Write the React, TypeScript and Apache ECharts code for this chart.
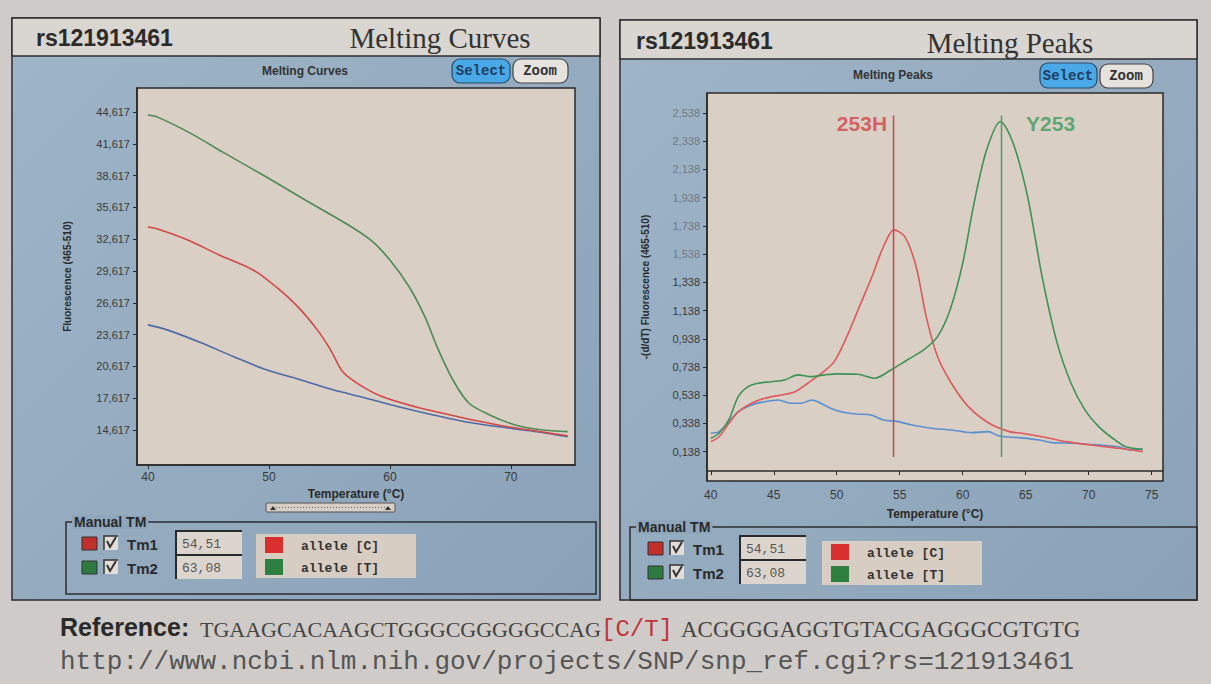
import React, { useEffect, useRef } from "react";
import * as echarts from "echarts";

// ---------- Melting Curves (left) ----------
const mcGreenT = [40, 40.8, 43.5, 46.2, 49.8, 53.0, 56.3, 58.4, 60.0, 61.6, 62.9, 63.9, 65.2, 66.5, 68.2, 70.3, 72.5, 74.7];
const mcGreenF = [44.35, 44.15, 42.64, 40.84, 38.49, 36.32, 34.15, 32.55, 30.66, 28.11, 25.29, 22.46, 19.35, 17.18, 16.05, 15.11, 14.63, 14.45];
const mcRedT = [40, 40.8, 43.3, 45.9, 48.7, 50.6, 52.4, 54.0, 55.1, 56.1, 57.5, 59.4, 62.1, 64.9, 67.6, 70.3, 74.7];
const mcRedF = [33.77, 33.58, 32.54, 31.13, 29.72, 28.11, 26.23, 24.06, 22.17, 20.10, 18.87, 17.74, 16.80, 16.05, 15.38, 14.81, 14.06];
const mcBlueT = [40, 41.6, 44.4, 47.1, 49.8, 52.6, 55.3, 57.9, 60.7, 63.5, 66.2, 69.0, 71.6, 74.7];
const mcBlueF = [24.53, 24.06, 22.84, 21.52, 20.29, 19.35, 18.40, 17.65, 16.80, 16.05, 15.38, 14.91, 14.53, 13.97];
const mcYTicks = [14.617, 17.617, 20.617, 23.617, 26.617, 29.617, 32.617, 35.617, 38.617, 41.617, 44.617];
const mcXTicks = [40, 50, 60, 70];

// ---------- Melting Peaks (right) ----------
const mpRedT = [40.0, 40.66, 41.44, 42.2, 43.25, 44.3, 45.6, 46.7, 47.7, 48.8, 49.8, 50.8, 51.8, 52.8, 53.6, 54.55, 55.4, 56.3, 57.1, 58.0, 59.1, 60.45, 62.1, 63.7, 64.7, 66.9, 68.2, 70.8, 72.4, 74.3];
const mpRedV = [0.209, 0.244, 0.339, 0.422, 0.481, 0.517, 0.540, 0.563, 0.623, 0.694, 0.776, 0.953, 1.166, 1.379, 1.568, 1.710, 1.662, 1.450, 1.095, 0.812, 0.623, 0.457, 0.339, 0.280, 0.268, 0.233, 0.209, 0.178, 0.162, 0.138];
const mpGreenT = [40.0, 40.66, 41.43, 42.18, 42.96, 43.75, 44.8, 45.87, 46.91, 47.97, 49.03, 50.09, 51.68, 53.0, 54.3, 55.6, 56.9, 58.0, 59.0, 60.0, 60.9, 61.9, 63.0, 64.0, 65.15, 66.3, 67.5, 68.6, 69.7, 70.8, 71.9, 72.95, 74.3];
const mpGreenV = [0.233, 0.268, 0.363, 0.528, 0.599, 0.623, 0.634, 0.646, 0.682, 0.670, 0.682, 0.689, 0.687, 0.658, 0.717, 0.788, 0.859, 0.953, 1.143, 1.473, 1.899, 2.277, 2.478, 2.325, 1.946, 1.379, 0.907, 0.623, 0.434, 0.315, 0.233, 0.173, 0.155];
const mpBlueT = [40.0, 40.66, 41.44, 42.2, 43.25, 44.3, 45.35, 46.4, 47.2, 48.0, 48.5, 49.5, 50.6, 51.6, 52.7, 53.7, 54.9, 55.95, 57.5, 59.1, 60.7, 62.0, 62.9, 64.5, 66.1, 67.1, 68.7, 70.8, 72.4, 73.2, 74.3];
const mpBlueV = [0.268, 0.280, 0.351, 0.422, 0.469, 0.492, 0.504, 0.481, 0.481, 0.504, 0.492, 0.446, 0.415, 0.405, 0.398, 0.363, 0.351, 0.327, 0.304, 0.292, 0.273, 0.280, 0.249, 0.237, 0.221, 0.202, 0.198, 0.186, 0.173, 0.150, 0.155];
const mpYTicks = [0.138, 0.338, 0.538, 0.738, 0.938, 1.138, 1.338, 1.538, 1.738, 1.938, 2.138, 2.338, 2.538];
const mpXTicks = [40, 45, 50, 55, 60, 65, 70, 75];

// Tm markers
const tmValues = [54.51, 63.08];
const tmText = ["54,51", "63,08"];
const tmPeakLabels = ["253H", "Y253"];
const tmLineRange = [2.52, 0.1];
const alleleLabels = ["allele [C]", "allele [T]"];

const rsId = "rs121913461";
const refSeqLeft = "TGAAGCACAAGCTGGGCGGGGGCCAG";
const refSnp = "[C/T]";
const refSeqRight = "ACGGGGAGGTGTACGAGGGCGTGTG";
const refUrl = "http://www.ncbi.nlm.nih.gov/projects/SNP/snp_ref.cgi?rs=121913461";

const SANS = '"Liberation Sans", Arial, sans-serif';
const SERIF = '"Liberation Serif", "Times New Roman", serif';
const MONO = '"Liberation Mono", "Courier New", monospace';

const pairs = (xs: number[], ys: number[]) => xs.map((x, i) => [x, ys[i]]);
const comma = (v: number, d: number) => v.toFixed(d).replace(".", ",");

function rect(x: number, y: number, w: number, h: number, fill: any, stroke?: string, r = 0, z = -5, lw = 1) {
  return { type: "rect", z, shape: { x, y, width: w, height: h, r }, style: { fill, stroke: stroke || "none", lineWidth: lw } };
}
function txt(x: number, y: number, text: string, font: string, fill: string, align = "left", z = 10, extra: any = {}) {
  return { type: "text", z, x, y, style: { text, font, fill, textAlign: align, textVerticalAlign: "middle", ...extra } };
}
function pl(points: number[][], stroke: string, lw = 1, z = 10) {
  return { type: "polyline", z, shape: { points }, style: { stroke, lineWidth: lw, fill: "none" } };
}

const panelGrad = () =>
  new echarts.graphic.LinearGradient(0, 0, 1, 1, [
    { offset: 0, color: "#9fb5c8" },
    { offset: 1, color: "#8aa2b8" },
  ]);

function manualTm(bx: number, by: number, bw: number, bh: number, rowY: number[], sqX: number, tbX: number, lgX: number, lgY: number, panelColor: string) {
  const els: any[] = [];
  els.push({ type: "rect", z: 1, shape: { x: bx, y: by, width: bw, height: bh }, style: { fill: "none", stroke: "#2c2c2c", lineWidth: 1.5 } });
  els.push(txt(bx + 6, by, "Manual TM", "bold 14px " + SANS, "#2a2a2a", "left", 10, { backgroundColor: panelColor, padding: [0, 2] }));
  const sqColors = ["#c2302c", "#2f7a40"];
  rowY.forEach((ry, i) => {
    els.push({ type: "rect", z: 5, shape: { x: sqX, y: ry - 6, width: 15, height: 13 }, style: { fill: sqColors[i], stroke: "#333", lineWidth: 1 } });
    els.push({ type: "rect", z: 5, shape: { x: sqX + 22, y: ry - 7, width: 14, height: 14 }, style: { fill: "#e2ddd7", stroke: "none" } });
    els.push(pl([[sqX + 22, ry + 7], [sqX + 22, ry - 7], [sqX + 36, ry - 7]], "#333", 1.5));
    els.push(pl([[sqX + 25, ry - 2], [sqX + 28, ry + 4], [sqX + 34, ry - 6]], "#333", 2));
    els.push(txt(sqX + 45, ry + 1, "Tm" + (i + 1), "bold 15px " + SANS, "#2a2a2a"));
    els.push({ type: "rect", z: 5, shape: { x: tbX, y: ry - 12, width: 66, height: 24 }, style: { fill: "#dcd5ce", stroke: "none" } });
    els.push(pl([[tbX, ry + 12], [tbX, ry - 12], [tbX + 66, ry - 12]], "#2a2a2a", 2));
    els.push(txt(tbX + 6, ry + 1, tmText[i], "13px " + MONO, "#555"));
  });
  els.push({ type: "rect", z: 5, shape: { x: lgX, y: lgY, width: 160, height: 44 }, style: { fill: "#d8cdc3", stroke: "none" } });
  alleleLabels.forEach((a, i) => {
    const cy = lgY + 11 + i * 22;
    els.push({ type: "rect", z: 6, shape: { x: lgX + 9, y: cy - 8, width: 18, height: 16 }, style: { fill: i === 0 ? "#d8302e" : "#2e8040", stroke: "none" } });
    els.push(txt(lgX + 45, cy + 1, a, "bold 13px " + MONO, "#333"));
  });
  return els;
}

function buildOption() {
  const graphic: any[] = [];
  // page background
  graphic.push(rect(0, 0, 1211, 684, "#cfcbc8", undefined, 0, -10));
  // LEFT PANEL
  graphic.push(rect(12, 18, 588, 582, panelGrad(), "#2e2e2e", 0, -6, 1.5));
  graphic.push(rect(12, 18, 588, 38, "#d9d5d1", "#2e2e2e", 0, -5, 1.5));
  graphic.push(txt(36, 38, rsId, "bold 23px " + SANS, "#2b2b2b"));
  graphic.push(txt(440, 38, "Melting Curves", "29px " + SERIF, "#333", "center"));
  graphic.push(txt(305, 71, "Melting Curves", "bold 12px " + SANS, "#333", "center", 10, { letterSpacing: 2.5 }));
  graphic.push(rect(452, 59, 58, 24, "#49a9e6", "#2b4a66", 8, 2, 1.2));
  graphic.push(txt(481, 71, "Select", "bold 14px " + MONO, "#1d3d62", "center"));
  graphic.push(rect(513, 59, 55, 24, "#e6e2de", "#444", 8, 2, 1.2));
  graphic.push(txt(540, 71, "Zoom", "bold 14px " + MONO, "#333", "center"));
  // scrollbar widget
  graphic.push(rect(266, 503, 129, 9, "#d6cdc4", "#555", 1, 2, 1));
  graphic.push({ type: "line", z: 3, shape: { x1: 276, y1: 507.5, x2: 385, y2: 507.5 }, style: { stroke: "#666", lineWidth: 1, lineDash: [1, 2] } });
  graphic.push({ type: "polygon", z: 3, shape: { points: [[270, 510], [273, 506], [276, 510]] }, style: { fill: "#333" } });
  graphic.push({ type: "polygon", z: 3, shape: { points: [[385, 510], [388, 506], [391, 510]] }, style: { fill: "#333" } });
  graphic.push(...manualTm(66, 522, 530, 72, [543, 567], 82, 176, 256, 534, "#8fa7bc"));

  // RIGHT PANEL
  graphic.push(rect(620, 20, 577, 580, panelGrad(), "#2e2e2e", 0, -6, 1.5));
  graphic.push(rect(620, 20, 577, 39, "#d9d5d1", "#2e2e2e", 0, -5, 1.5));
  graphic.push(txt(636, 41, rsId, "bold 23px " + SANS, "#2b2b2b"));
  graphic.push(txt(1010, 43, "Melting Peaks", "29px " + SERIF, "#333", "center"));
  graphic.push(txt(893, 75, "Melting Peaks", "bold 12px " + SANS, "#333", "center", 10, { letterSpacing: 2.5 }));
  graphic.push(rect(1040, 63, 57, 25, "#49a9e6", "#2b4a66", 8, 2, 1.2));
  graphic.push(txt(1068, 76, "Select", "bold 14px " + MONO, "#1d3d62", "center"));
  graphic.push(rect(1100, 64, 53, 24, "#e6e2de", "#444", 8, 2, 1.2));
  graphic.push(txt(1126, 76, "Zoom", "bold 14px " + MONO, "#333", "center"));
  graphic.push(...manualTm(630, 527, 567, 73, [548, 572], 648, 740, 822, 541, "#8ea6bb"));

  // Bottom reference text
  graphic.push(txt(60, 627, "Reference:", "bold 25px " + SANS, "#2a2a2a"));
  graphic.push(txt(200, 629, refSeqLeft, "22px " + SERIF, "#444"));
  graphic.push(txt(601, 629, refSnp, "24px " + MONO, "#c0353a"));
  graphic.push(txt(681, 629, refSeqRight, "23px " + SERIF, "#444"));
  graphic.push(txt(60, 662, refUrl, "26px " + MONO, "#555"));

  const axisLine = { lineStyle: { color: "#2a2a2a", width: 1.5 } };
  const labelFont = { fontFamily: SANS, fontSize: 11, color: "#3a3a3a" };

  const tmSeries = tmValues.map((tm, i) => ({
    type: "line",
    xAxisIndex: 1,
    yAxisIndex: 1,
    symbol: "none",
    silent: true,
    z: 4,
    lineStyle: { color: i === 0 ? "#c0484a" : "#4f9f6e", width: 1.5 },
    data: [[tm, tmLineRange[0]], [tm, tmLineRange[1]]],
  }));

  const tmLabelSeries = {
    type: "scatter",
    xAxisIndex: 1,
    yAxisIndex: 1,
    silent: true,
    symbolSize: 1,
    itemStyle: { color: "rgba(0,0,0,0)" },
    z: 5,
    data: tmValues.map((tm, i) => ({
      value: [tm, tmLineRange[0]],
      label: {
        show: true,
        formatter: tmPeakLabels[i],
        position: i === 0 ? "left" : "right",
        distance: i === 0 ? 6 : 24,
        offset: [0, 8],
        fontFamily: SANS,
        fontWeight: "bold",
        fontSize: 21,
        color: i === 0 ? "#d0454b" : "#3f9a5c",
      },
    })),
  };

  const curve = (xs: number[], ys: number[], color: string, axis: number, smooth: number) => ({
    type: "line",
    xAxisIndex: axis,
    yAxisIndex: axis,
    symbol: "none",
    smooth,
    z: 3,
    lineStyle: { color, width: 1.6 },
    data: pairs(xs, ys),
  });

  return {
    animation: false,
    backgroundColor: "#cfcbc8",
    graphic: { elements: graphic },
    grid: [
      { left: 137, top: 88, width: 438, height: 377, show: true, backgroundColor: "#dacfc4", borderColor: "#2a2a2a", borderWidth: 1.5, z: 0 },
      { left: 707, top: 93, width: 456, height: 388, show: true, backgroundColor: "#dacfc4", borderColor: "#2a2a2a", borderWidth: 1.5, z: 0 },
    ],
    xAxis: [
      {
        type: "value", gridIndex: 0, min: 39.1, max: 75.3,
        name: "Temperature (°C)", nameLocation: "middle", nameGap: 22,
        nameTextStyle: { fontFamily: SANS, fontWeight: "bold", fontSize: 12, color: "#2a2a2a" },
        axisLine, splitLine: { show: false },
        axisTick: { show: true, length: 4, customValues: mcXTicks, lineStyle: { color: "#2a2a2a" } },
        axisLabel: { ...labelFont, fontSize: 12, customValues: mcXTicks, margin: 6 },
      },
      {
        type: "value", gridIndex: 1, min: 39.7, max: 75.9,
        name: "Temperature (°C)", nameLocation: "middle", nameGap: 27,
        nameTextStyle: { fontFamily: SANS, fontWeight: "bold", fontSize: 12, color: "#2a2a2a" },
        axisLine, splitLine: { show: false },
        axisTick: { show: true, length: 4, customValues: mpXTicks, lineStyle: { color: "#2a2a2a" } },
        axisLabel: { ...labelFont, fontSize: 12, customValues: mpXTicks, margin: 8 },
      },
    ],
    yAxis: [
      {
        type: "value", gridIndex: 0, min: 11.3, max: 46.9,
        name: "Fluorescence (465-510)", nameLocation: "middle", nameGap: 65, nameRotate: 90,
        nameTextStyle: { fontFamily: SANS, fontWeight: "bold", fontSize: 10, color: "#2a2a2a" },
        axisLine: { show: true, ...axisLine }, splitLine: { show: false },
        axisTick: { show: true, length: 4, customValues: mcYTicks, lineStyle: { color: "#2a2a2a" } },
        axisLabel: { ...labelFont, customValues: mcYTicks, margin: 7, formatter: (v: number) => comma(v, 3) },
      },
      {
        type: "value", gridIndex: 1, min: -0.07, max: 2.68,
        name: "-(d/dT) Fluorescence (465-510)", nameLocation: "middle", nameGap: 57, nameRotate: 90,
        nameTextStyle: { fontFamily: SANS, fontWeight: "bold", fontSize: 10, color: "#2a2a2a" },
        axisLine: { show: true, ...axisLine }, splitLine: { show: false },
        axisTick: { show: true, length: 4, customValues: mpYTicks, lineStyle: { color: "#2a2a2a" } },
        axisLabel: {
          ...labelFont, customValues: mpYTicks, margin: 7,
          formatter: (v: number) => comma(v, 3),
          color: (v: any) => (Number(v) > 1.5 ? "#6e7a86" : "#3a3a3a"),
        },
      },
    ],
    series: [
      curve(mcBlueT, mcBlueF, "#4d6aa6", 0, 0.3),
      curve(mcRedT, mcRedF, "#d24848", 0, 0.3),
      curve(mcGreenT, mcGreenF, "#4e8a58", 0, 0.3),
      curve(mpBlueT, mpBlueV, "#5b8fd0", 1, 0.3),
      curve(mpRedT, mpRedV, "#dc5a5e", 1, 0.3),
      curve(mpGreenT, mpGreenV, "#3f9257", 1, 0.3),
      ...tmSeries,
      tmLabelSeries,
    ],
  };
}

export default function App() {
  const ref = useRef<HTMLDivElement>(null);
  useEffect(() => {
    if (!ref.current) return;
    const chart = echarts.init(ref.current, null, { renderer: "svg" });
    chart.setOption(buildOption() as any);
    return () => chart.dispose();
  }, []);
  return <div ref={ref} style={{ position: "absolute", left: 0, top: 0, width: 1211, height: 684 }} />;
}
